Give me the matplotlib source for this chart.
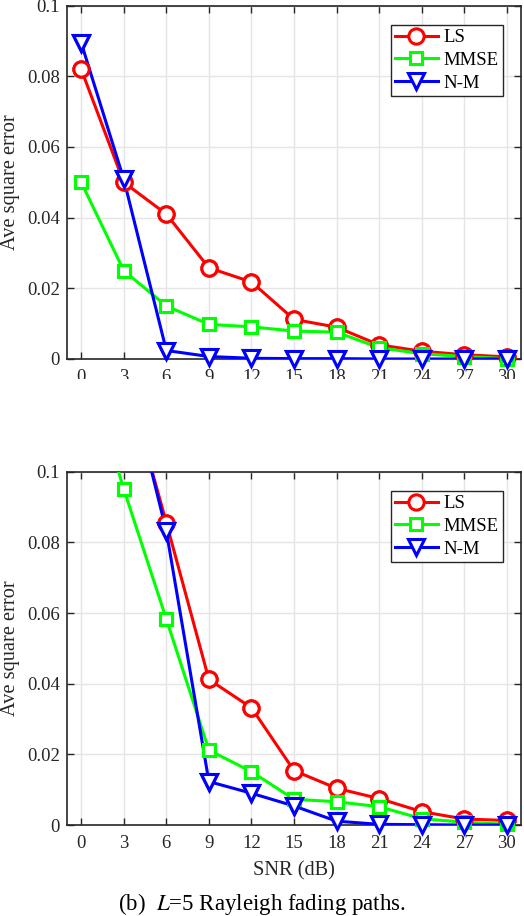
import numpy as np
import matplotlib.pyplot as plt
from matplotlib.patches import Rectangle

plt.rcParams['font.family'] = ['Liberation Serif', 'DejaVu Serif']
plt.rcParams['mathtext.fontset'] = 'stix'

snr = [0, 3, 6, 9, 12, 15, 18, 21, 24, 27, 30]

# panel (a), top
ls_a = [0.082, 0.050, 0.041, 0.0258, 0.0218, 0.0112, 0.0090, 0.0040, 0.0022, 0.0012, 0.0006]
mmse_a = [0.050, 0.025, 0.015, 0.0098, 0.0091, 0.0079, 0.0076, 0.0032, 0.0015, 0.0007, 0.0001]
nm_a = [0.0895, 0.0509, 0.0024, 0.0007, 0.0002, 0.0001, 0.0001, 0.0, 0.0, 0.0, 0.0]

# panel (b), bottom
ls_b = [0.17, 0.129, 0.0856, 0.0412, 0.0332, 0.0154, 0.0104, 0.0075, 0.0038, 0.0017, 0.0013]
mmse_b = [0.135, 0.0951, 0.0583, 0.0212, 0.0151, 0.0073, 0.0066, 0.0052, 0.0018, 0.0008, 0.0002]
nm_b = [0.16, 0.132, 0.0832, 0.0123, 0.0090, 0.0054, 0.0011, 0.0002, 0.0001, 0.0, 0.0]

series_names = ['LS', 'MMSE', 'N-M']
colors = ['#ff0000', '#00ff00', '#0000ff']
markers = ['o', 's', 'v']
msizes = [11, 9, 12]

xticks = snr
yticks = [0, 0.02, 0.04, 0.06, 0.08, 0.1]
ytick_labels = ['0', '0.02', '0.04', '0.06', '0.08', '0.1']

dark = '#262626'

fig = plt.figure(figsize=(5.24, 9.16), dpi=100)
ax_a = fig.add_axes([0.1279, 0.6081, 0.8664, 0.3857])
ax_b = fig.add_axes([0.1279, 0.0993, 0.8664, 0.3857])


def draw(ax, data):
    for y, name, c, m, ms in zip(data, series_names, colors, markers, msizes):
        y = np.asarray(y)
        ax.plot(snr, y, color=c, lw=2.2, marker=m, ms=ms, mfc='white',
                mec=c, mew=2.2, label=name, zorder=3)
        # markers inside the y range are not clipped at the spines
        keep = y <= 0.1
        ax.plot(np.asarray(snr)[keep], y[keep], ls='none', marker=m, ms=ms,
                mfc='white', mec=c, mew=2.2, clip_on=False, zorder=4)
    ax.set_xlim(-1, 31)
    ax.set_ylim(0, 0.1)
    ax.set_xticks(xticks)
    ax.set_yticks(yticks)
    ax.set_yticklabels(ytick_labels)
    ax.grid(True, color='#e5e5e5', lw=1)
    ax.set_axisbelow(True)
    for s in ax.spines.values():
        s.set_color(dark)
        s.set_linewidth(1.2)
    ax.tick_params(direction='in', top=True, right=True, length=5, width=1,
                   color=dark, labelcolor=dark, labelsize=13.5)
    ax.tick_params(axis='x', pad=7)
    ax.tick_params(axis='y', pad=5)
    ax.set_ylabel('Ave square error', fontsize=14.7, color=dark, labelpad=5)
    leg = ax.legend(loc='upper right', bbox_to_anchor=(0.9597, 0.9454),
                    borderaxespad=0, fancybox=False, fontsize=13.5,
                    handlelength=2.3, handletextpad=0.3, labelspacing=0.3,
                    borderpad=0.22, framealpha=1)
    leg.get_frame().set_edgecolor(dark)
    leg.get_frame().set_linewidth(1.0)


draw(ax_a, [ls_a, mmse_a, nm_a])
draw(ax_b, [ls_b, mmse_b, nm_b])
ax_b.set_xlabel('SNR (dB)', fontsize=14.7, color=dark, labelpad=6.5)

# the top panel was cropped just under its tick labels
fig.add_artist(Rectangle((0, 1 - 462 / 916), 1, (462 - 379) / 916,
                         transform=fig.transFigure, facecolor='white',
                         edgecolor='none', zorder=10))

fig.text(0.5, 1 - 904 / 916, '(b)  $L$=5 Rayleigh fading paths.',
         ha='center', va='center', fontsize=16.5)

plt.savefig('out.png', dpi=100)
